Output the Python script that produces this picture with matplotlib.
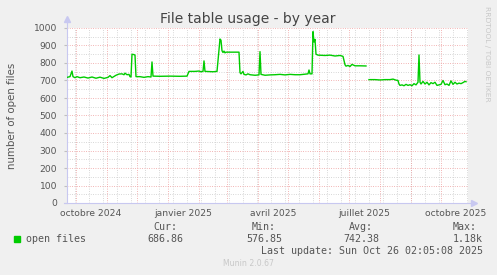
import matplotlib
matplotlib.use("Agg")
import matplotlib.pyplot as plt
import numpy as np
import pandas as pd

W, H = 497, 275
BG, GREEN = "#F0F0F0", "#00CC00"
TXT, AXIS = "#555555", "#C8C8F0"

# open files (NaN = gap in the data)
dates = [
    "2024-09-22", "2024-09-25", "2024-09-27", "2024-09-28", "2024-09-30", "2024-10-02",
    "2024-10-05", "2024-10-09", "2024-10-13", "2024-10-17", "2024-10-21", "2024-10-25",
    "2024-10-29", "2024-11-02", "2024-11-04", "2024-11-06", "2024-11-10", "2024-11-13",
    "2024-11-16", "2024-11-18", "2024-11-19", "2024-11-21", "2024-11-23", "2024-11-24",
    "2024-11-25", "2024-11-26", "2024-11-28", "2024-11-29", "2024-11-30", "2024-12-04",
    "2024-12-08", "2024-12-12", "2024-12-15", "2024-12-16", "2024-12-17", "2024-12-24",
    "2025-01-03", "2025-01-13", "2025-01-20", "2025-01-22", "2025-01-28", "2025-02-01",
    "2025-02-03", "2025-02-05", "2025-02-06", "2025-02-07", "2025-02-15", "2025-02-19",
    "2025-02-22", "2025-02-23", "2025-02-24", "2025-02-25", "2025-02-26", "2025-02-27",
    "2025-02-28", "2025-03-13", "2025-03-14", "2025-03-15", "2025-03-17", "2025-03-18",
    "2025-03-20", "2025-03-22", "2025-03-24", "2025-03-29", "2025-04-02", "2025-04-03",
    "2025-04-04", "2025-04-08", "2025-04-13", "2025-04-18", "2025-04-23", "2025-04-28",
    "2025-05-03", "2025-05-08", "2025-05-13", "2025-05-18", "2025-05-21", "2025-05-22",
    "2025-05-23", "2025-05-25", "2025-05-26", "2025-05-27", "2025-05-28", "2025-05-29",
    "2025-05-31", "2025-06-07", "2025-06-12", "2025-06-17", "2025-06-22", "2025-06-25",
    "2025-06-27", "2025-06-28", "2025-06-30", "2025-07-02", "2025-07-04", "2025-07-07",
    "2025-07-12", "2025-07-18", "2025-07-19", "2025-07-21", "2025-07-27", "2025-08-01",
    "2025-08-06", "2025-08-11", "2025-08-14", "2025-08-17", "2025-08-19", "2025-08-20",
    "2025-08-21", "2025-08-23", "2025-08-25", "2025-08-27", "2025-08-29", "2025-08-31",
    "2025-09-02", "2025-09-04", "2025-09-06", "2025-09-08", "2025-09-09", "2025-09-10",
    "2025-09-11", "2025-09-13", "2025-09-15", "2025-09-17", "2025-09-19", "2025-09-21",
    "2025-09-23", "2025-09-25", "2025-09-27", "2025-09-29", "2025-10-01", "2025-10-03",
    "2025-10-05", "2025-10-07", "2025-10-09", "2025-10-11", "2025-10-13", "2025-10-15",
    "2025-10-17", "2025-10-19", "2025-10-21", "2025-10-23", "2025-10-25", "2025-10-26",
]
open_files = [
    718, 722, 754, 722, 716, 722,
    716, 720, 714, 720, 713, 719,
    712, 718, 728, 716, 730, 737,
    738, 733, 742, 733, 735, 722,
    720, 850, 848, 845, 722, 722,
    718, 722, 720, 806, 725, 724,
    725, 724, 725, 752, 752, 754,
    750, 752, 812, 752, 750, 752,
    937, 930, 870, 860, 868, 858,
    862, 862, 745, 738, 752, 735,
    732, 738, 733, 730, 732, 865,
    735, 730, 732, 733, 735, 732,
    735, 733, 733, 736, 738, 760,
    738, 738, 979, 920, 935, 850,
    845, 843, 845, 840, 843, 838,
    790, 782, 786, 780, 792, 784,
    784, 783, np.nan, 705, 705, 703,
    705, 705, 708, 702, 700, 680,
    672, 675, 670, 678, 672, 676,
    670, 682, 675, 690, 846, 690,
    680, 695, 680, 690, 675, 688,
    682, 690, 672, 675, 678, 700,
    676, 680, 672, 698, 678, 690,
    680, 685, 682, 688, 695, 693,
]

x_ticks = ["2024-10-16", "2025-01-16", "2025-04-16", "2025-07-16", "2025-10-16"]
x_labels = ["octobre 2024", "janvier 2025", "avril 2025", "juillet 2025", "octobre 2025"]
stat_names = ["Cur:", "Min:", "Avg:", "Max:"]
stat_values = ["686.86", "576.85", "742.38", "1.18k"]

fig = plt.figure(figsize=(W / 100, H / 100), dpi=100, facecolor=BG)
ax = fig.add_axes([67 / W, 72 / H, 401 / W, 175 / H])
ax.set_facecolor("white")

t = pd.to_datetime(dates)
t0, t1 = pd.Timestamp("2024-09-22"), pd.Timestamp("2025-10-28")
ax.set_xlim(t0, t1)
ax.set_ylim(0, 1000)

# grid: grey minor, red major, dotted
dot = (0, (1, 1.8))
g = dict(lw=0.6, ls=dot, zorder=1)
for y in range(50, 1000, 100):
    ax.axhline(y, color="#CACACA", **g)
for d in pd.date_range("2024-09-30", t1, freq="14D"):
    ax.axvline(d, color="#CACACA", **g)
for y in range(100, 1001, 100):
    ax.axhline(y, color="#EE9C9C", **g)
for d in pd.date_range("2024-10-01", t1, freq="MS"):
    ax.axvline(d, color="#EE9C9C", **g)

ax.plot(t, open_files, color=GREEN, lw=1.0, zorder=3)

for s in ax.spines.values():
    s.set_visible(False)
# axis lines with arrow heads
ax.plot([0, 0], [0, 1.05], transform=ax.transAxes, color=AXIS, lw=0.8, clip_on=False)
ax.plot([-0.008, 1.015], [0, 0], transform=ax.transAxes, color=AXIS, lw=0.8, clip_on=False)
ax.plot([0], [1.05], marker="^", ms=4, color=AXIS, transform=ax.transAxes, clip_on=False)
ax.plot([1.015], [0], marker=">", ms=4, color=AXIS, transform=ax.transAxes, clip_on=False)

ax.set_yticks(range(0, 1001, 100))
ax.tick_params(axis="y", length=2, color="#C0C0C0", pad=5, labelsize=6.6, labelcolor=TXT)
ax.set_xticks(pd.to_datetime(x_ticks))
ax.set_xticklabels(x_labels)
ax.tick_params(axis="x", length=0, pad=4, labelsize=6.6, labelcolor=TXT)
ax.set_ylabel("number of open files", fontsize=7.4, color=TXT)
ax.yaxis.set_label_coords((17 - 67) / 401, 0.5)

fig.text(248 / W, 1 - 19 / H, "File table usage - by year", ha="center", va="center",
         fontsize=10, color="#444444")
fig.text(487 / W, 1 - 6 / H, "RRDTOOL / TOBI OETIKER", rotation=270, ha="center", va="top",
         fontsize=5.4, color="#C8C8C8")

# legend block
mono = dict(family="DejaVu Sans Mono", fontsize=7.2, color=TXT)
fig.patches.append(plt.Rectangle((14 / W, 1 - 242 / H), 6 / W, 6 / H, color=GREEN,
                                 transform=fig.transFigure))
fig.text(26 / W, 1 - 239.5 / H, "open files", ha="left", va="center", **mono)
for xr, name, val in zip([183, 282, 379, 483], stat_names, stat_values):
    fig.text((xr - 6) / W, 1 - 227.5 / H, name, ha="right", va="center", **mono)
    fig.text(xr / W, 1 - 239.5 / H, val, ha="right", va="center", **mono)
fig.text(483 / W, 1 - 251.5 / H, "Last update: Sun Oct 26 02:05:08 2025", ha="right",
         va="center", **mono)
fig.text(248 / W, 1 - 264 / H, "Munin 2.0.67", ha="center", va="center", fontsize=5.6,
         color="#C8C8C8")

fig.savefig("out.png", dpi=100, facecolor=BG)
